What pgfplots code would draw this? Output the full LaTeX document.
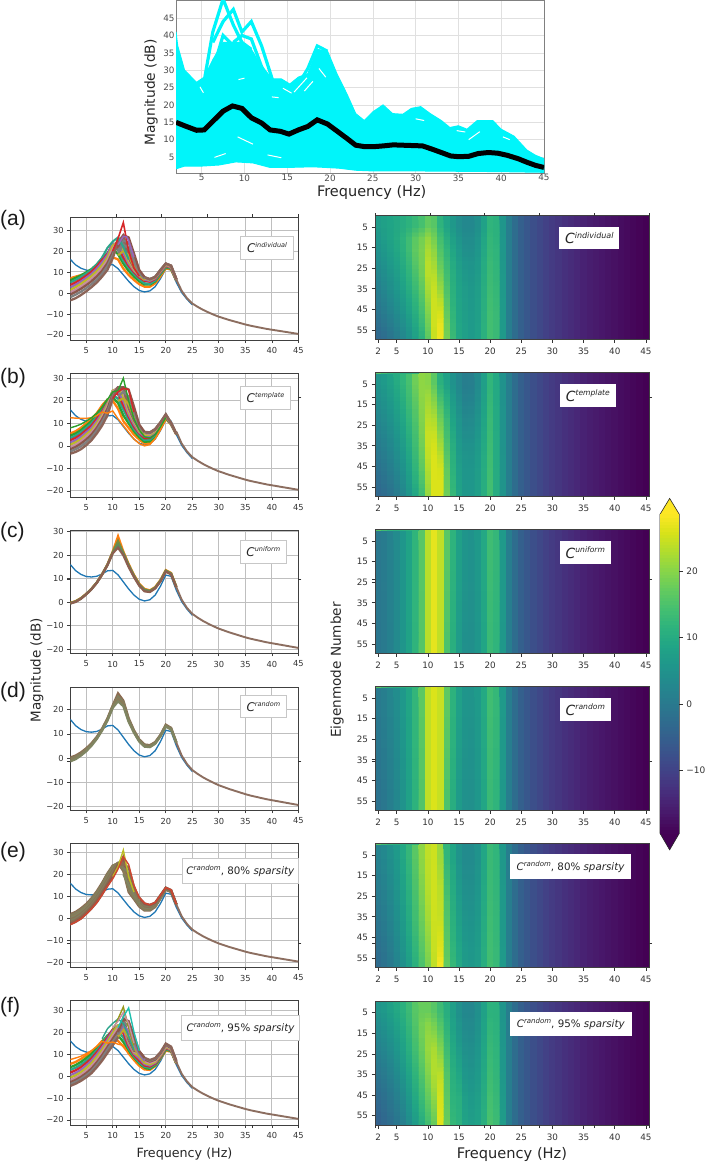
\documentclass[border=0pt]{standalone}
\usepackage{fontspec}
\setmainfont{DejaVu Sans}
\newfontfamily\arial{Liberation Sans}
\usepackage{pgfplots}
\usepackage{pgfplotstable}
\pgfplotsset{compat=1.18}

\definecolor{fan1}{HTML}{FF7F0E}
\definecolor{fan2}{HTML}{2CA02C}
\definecolor{fan3}{HTML}{2CA58C}
\definecolor{fan4}{HTML}{D62728}
\definecolor{fan5}{HTML}{9467BD}
\definecolor{fan6}{HTML}{BCBD22}
\definecolor{fan7}{HTML}{C58FA0}
\definecolor{fan8}{HTML}{8C564B}
\definecolor{fan9}{HTML}{7F7F7F}
\definecolor{fan10}{HTML}{8C6458}
\definecolor{uni1}{HTML}{FF7F0E}
\definecolor{uni2}{HTML}{7C8C3C}
\definecolor{uni3}{HTML}{5F8C5C}
\definecolor{uni4}{HTML}{8C5F50}
\definecolor{spa1}{HTML}{8C6A50}
\definecolor{spa2}{HTML}{808060}
\definecolor{spa3}{HTML}{8C7A58}
\definecolor{spa4}{HTML}{7F8562}
\definecolor{spa5}{HTML}{8C7055}
\definecolor{spa6}{HTML}{7F7F60}
\definecolor{spa7}{HTML}{8C6A50}
\definecolor{spa8}{HTML}{8C5A4C}
\definecolor{tabblue}{HTML}{1F77B4}
\definecolor{tailc}{HTML}{8C6E60}
\definecolor{topcyan}{HTML}{00F5FA}
\definecolor{vmin}{HTML}{440154}
\definecolor{vmax}{HTML}{FDE725}

\pgfdeclareplotmark{cell}{\pgfpathrectangle{\pgfpoint{-3.3pt}{-\pgfplotmarksize}}{\pgfpoint{6.6pt}{2\pgfplotmarksize}}\pgfusepathqfill}
\pgfdeclareplotmark{cellb}{\pgfpathrectangle{\pgfpoint{-3.115pt}{-\pgfplotmarksize}}{\pgfpoint{6.23pt}{2\pgfplotmarksize}}\pgfusepathqfill}
\pgfdeclareplotmark{cbcell}{\pgfpathrectangle{\pgfpoint{-9.65pt}{-\pgfplotmarksize}}{\pgfpoint{19.3pt}{2\pgfplotmarksize}}\pgfusepathqfill}

\pgfplotsset{
  leftp/.style={
    scale only axis, width=228.1pt, anchor=south west,
    xmin=2, xmax=45,
    xtick={5,10,15,20,25,30,35,40,45},
    xticklabels={5,10,15,20,25,30,35,40,45},
    tick pos=left, tick align=outside, major tick length=3pt,
    tick style={black!75,line width=0.7pt},
    grid=major, grid style={draw=black!25,line width=1pt},
    axis line style={draw=black!75,line width=0.9pt},
    tick label style={font=\fontsize{8.3}{10}\selectfont,text=black!80},
    xticklabel style={yshift=-1pt},
  },
  rightp/.style={
    scale only axis, width=274pt, height=123.6pt, anchor=south west,
    xmin=1.5, xmax=45.5, ymin=-0.5, ymax=59.5, y dir=reverse,
    xtick={2,5,10,15,20,25,30,35,40,45},
    xticklabels={2,5,10,15,20,25,30,35,40,45},
    ytick={5,15,25,35,45,55},
    yticklabels={5,15,25,35,45,55},
    tick pos=left, tick align=outside, major tick length=3.5pt,
    tick style={black!80,line width=0.7pt},
    axis on top, clip marker paths=true,
    axis line style={draw=black!75,line width=0.8pt},
    tick label style={font=\fontsize{8.8}{10}\selectfont,text=black!80},
    xticklabel style={yshift=-2pt},
    colormap/viridis, point meta min=-19.5, point meta max=28.6,
  },
  cellplot/.style={scatter, only marks, mark=cell, point meta=explicit},
  hidden ticks/.style={
    scale only axis, anchor=south west,
    axis line style={draw=none},
    xticklabels={}, yticklabels={},
    tick align=outside, major tick length=3pt,
    tick style={black!80,line width=0.7pt},
  },
}

% rows of the fans and heatmaps: columns run from low to high eigenmode
\pgfplotstableread{
f v
2 16.0
3 13.4
4 11.8
5 10.9
6 10.7
7 11.0
8 12.0
9 13.3
10 13.5
11 11.6
12 8.6
13 5.6
14 3.0
15 1.2
16 0.5
17 1.0
18 3.0
19 6.8
20 11.5
21 11.0
22 5.0
23 0.2
24 -3.0
25 -5.6
}\bluetab

\pgfplotstableread{
f v
22 6.3
23 1.0
24 -2.5
25 -5.0
26 -6.6
27 -8.0
28 -9.2
29 -10.3
30 -11.3
31 -12.1
32 -12.9
33 -13.6
34 -14.3
35 -15.0
36 -15.6
37 -16.1
38 -16.6
39 -17.1
40 -17.5
41 -17.9
42 -18.3
43 -18.7
44 -19.1
45 -19.5
}\tailtab

\pgfplotstableread{
f c1 c2 c3 c4 c5 c6 c7 c8 c9 c10
2 7.0 6.0 5.0 3.8 2.6 1.4 0.3 -0.8 -2.0 -3.5
3 7.8 7.2 6.2 5.0 3.9 2.8 1.6 0.5 -0.8 -2.5
4 8.5 8.4 7.6 6.5 5.4 4.3 3.1 2.0 0.6 -1.0
5 9.4 9.8 9.2 8.2 7.2 6.1 4.9 3.7 2.3 0.8
6 10.3 11.4 11.0 10.1 9.1 8.0 6.8 5.6 4.2 2.8
7 11.4 13.6 13.6 12.6 11.6 10.4 9.1 7.9 6.4 5.0
8 12.8 16.4 16.8 15.8 14.6 13.2 11.9 10.6 9.2 7.8
9 14.5 18.5 19.0 18.6 18.0 16.8 15.5 14.2 12.8 11.0
10 17.0 21.0 22.5 23.5 23.5 22.5 21.0 19.5 18.0 16.5
11 16.0 18.5 20.5 22.0 23.5 24.5 25.0 25.0 25.0 24.5
12 11.6 14.0 15.5 17.0 19.0 21.0 23.5 25.5 27.0 27.5
13 8.6 10.5 12.0 13.0 14.0 15.0 16.0 17.0 18.0 18.5
14 6.2 7.8 9.0 10.0 10.6 11.0 11.5 12.0 12.5 13.0
15 4.2 5.6 6.6 7.4 8.0 8.4 8.6 8.8 9.0 9.2
16 3.0 4.0 4.6 5.8 6.4 7.0 7.2 7.4 7.5 7.5
17 3.0 4.0 4.4 5.4 5.8 6.2 6.4 6.5 6.6 6.6
18 4.6 5.5 6.0 6.6 7.0 7.3 7.5 7.6 7.7 7.7
19 8.0 9.0 9.4 10.0 10.2 10.5 10.7 10.9 11.0 11.0
20 11.8 12.3 12.6 13.0 13.3 13.5 13.8 14.0 14.0 14.0
21 11.2 11.5 11.8 12.0 12.2 12.5 12.7 13.0 13.0 13.0
22 5.8 6.0 6.0 6.2 6.3 6.4 6.5 6.6 6.6 6.6
}\tabA

\pgfplotstableread{
f c1 c2 c3 c4 c5 c6 c7 c8 c9 c10
2 5.5 4.5 3.5 2.5 1.5 0.5 -0.5 -1.5 -2.5 -3.5
3 6.5 5.5 4.5 3.5 2.5 1.5 0.5 -0.5 -1.5 -2.7
4 8.0 7.0 6.0 5.0 4.0 3.0 2.0 1.0 -0.2 -1.5
5 10.0 9.0 8.0 7.0 6.0 5.0 4.0 2.8 1.6 0.3
6 12.0 11.0 10.0 9.0 8.0 7.0 6.0 5.0 3.8 2.5
7 14.5 13.8 13.0 12.0 11.0 10.0 9.0 8.0 6.8 5.5
8 18.0 17.0 16.0 15.2 14.4 13.6 12.8 11.8 10.6 9.0
9 20.5 20.5 20.0 19.5 19.0 18.2 17.4 16.4 15.0 13.5
10 20.0 21.5 22.5 23.5 24.5 24.5 24.0 23.0 22.0 21.0
11 16.5 19.0 21.0 23.0 24.5 25.5 26.0 26.0 26.0 26.0
12 11.0 13.5 16.0 18.0 20.0 22.0 24.0 25.5 26.0 26.0
13 8.0 10.0 11.5 13.0 14.0 15.0 16.0 17.0 17.5 18.0
14 5.0 6.5 7.5 8.5 9.5 10.5 11.0 11.5 12.0 12.5
15 2.8 3.8 4.8 5.5 6.0 6.5 7.0 7.5 8.0 8.3
16 1.0 1.8 2.6 3.4 4.2 5.0 5.5 5.8 6.0 6.2
17 1.2 2.0 2.8 3.5 4.2 4.9 5.4 5.7 5.9 6.0
18 3.6 4.2 4.8 5.4 6.0 6.5 6.9 7.2 7.4 7.5
19 7.5 8.0 8.4 8.8 9.2 9.6 10.0 10.2 10.4 10.5
20 12.0 12.4 12.7 13.0 13.2 13.4 13.6 13.8 14.0 14.0
21 9.5 9.6 9.7 9.8 9.9 10.0 10.0 10.1 10.1 10.2
22 5.0 5.0 5.1 5.1 5.2 5.2 5.3 5.3 5.3 5.4
}\tabB

\pgfplotstableread{
f c1 c2 c3 c4
2 -0.3 -0.4 -0.5 -0.6
3 0.4 0.3 0.2 0.1
4 1.7 1.6 1.5 1.4
5 3.5 3.4 3.4 3.3
6 5.7 5.6 5.6 5.5
7 8.4 8.3 8.3 8.2
8 11.9 11.8 11.8 11.7
9 16.0 15.9 15.8 15.7
10 21.5 21.2 21.0 20.8
11 28.0 26.0 24.5 23.2
12 21.5 21.0 20.5 20.0
13 16.2 15.8 15.5 15.0
14 11.6 11.3 11.0 10.7
15 7.8 7.5 7.2 7.0
16 5.6 5.3 5.0 4.6
17 5.0 4.8 4.6 4.3
18 6.4 6.2 6.0 5.8
19 9.4 9.2 9.0 8.8
20 13.6 13.4 13.2 13.0
21 12.4 12.2 12.0 11.8
22 6.5 6.4 6.3 6.2
}\tabC

\pgfplotstableread{
f c1 c2 c3 c4
2 0.2 -0.4 -0.9 -1.4
3 1.0 0.5 0.0 -0.5
4 2.3 1.8 1.4 1.0
5 4.0 3.6 3.2 2.8
6 6.1 5.8 5.4 5.1
7 8.8 8.5 8.2 7.9
8 12.2 12.0 11.7 11.4
9 16.4 16.1 15.8 15.5
10 21.8 21.5 21.2 20.8
11 26.8 25.5 24.5 23.5
12 23.8 23.2 22.5 21.5
13 16.5 16.0 15.5 15.0
14 11.5 11.2 10.8 10.5
15 7.7 7.4 7.0 6.8
16 5.6 5.3 5.0 4.7
17 5.3 5.0 4.7 4.5
18 6.6 6.4 6.1 5.9
19 9.6 9.4 9.2 9.0
20 13.8 13.5 13.3 13.0
21 12.5 12.3 12.0 11.8
22 6.5 6.4 6.3 6.2
}\tabD

\pgfplotstableread{
f c1 c2 c3 c4 c5 c6 c7 c8
2 2.0 1.4 0.8 0.2 -0.4 -1.0 -1.8 -2.6
3 3.0 2.4 1.8 1.2 0.6 0.0 -0.8 -1.5
4 4.6 4.0 3.4 2.8 2.2 1.6 0.8 0.0
5 6.6 6.0 5.5 4.9 4.3 3.7 3.0 2.2
6 9.2 8.6 8.0 7.4 6.8 6.2 5.4 4.6
7 12.4 11.8 11.2 10.6 10.0 9.3 8.4 7.4
8 16.2 15.6 15.0 14.4 13.8 13.0 12.0 11.0
9 20.5 20.0 19.3 18.6 17.8 17.0 16.0 15.0
10 24.0 23.8 23.4 22.8 22.0 21.0 20.0 19.0
11 25.0 25.2 25.2 25.2 25.0 24.8 24.5 24.0
12 21.5 22.5 23.5 24.0 24.5 25.5 26.5 28.0
13 12.0 13.0 14.0 15.0 15.5 16.0 16.5 17.0
14 8.8 9.5 10.0 10.5 11.0 11.5 12.0 12.5
15 5.4 6.0 6.6 7.2 7.8 8.4 9.0 9.4
16 3.6 4.0 4.5 5.0 5.5 6.0 6.5 6.8
17 3.6 4.0 4.4 4.8 5.2 5.6 6.0 6.2
18 5.2 5.5 5.8 6.1 6.4 6.7 7.0 7.2
19 9.0 9.2 9.5 9.7 10.0 10.2 10.4 10.6
20 13.0 13.2 13.3 13.5 13.6 13.8 13.9 14.0
21 12.0 12.1 12.2 12.4 12.5 12.6 12.8 12.9
22 6.2 6.2 6.3 6.3 6.4 6.4 6.5 6.5
}\tabE

\pgfplotstableread{
f c1 c2 c3 c4 c5 c6 c7 c8 c9 c10
2 5.5 4.0 2.8 1.6 0.4 -0.7 -1.8 -2.8 -3.7 -4.5
3 6.4 5.0 3.8 2.6 1.4 0.3 -0.8 -1.8 -2.7 -3.5
4 7.8 6.4 5.2 4.0 2.8 1.7 0.6 -0.4 -1.3 -2.2
5 9.4 8.2 7.0 5.9 4.8 3.6 2.4 1.3 0.3 -0.6
6 11.0 10.0 9.0 8.0 7.0 5.8 4.6 3.4 2.3 1.3
7 13.3 12.6 11.7 10.8 9.8 8.6 7.4 6.2 5.1 4.0
8 16.0 15.5 14.8 14.0 13.0 11.9 10.7 9.5 8.3 7.0
9 17.5 18.5 18.2 17.5 16.6 15.6 14.4 13.2 12.0 10.5
10 17.5 20.0 21.0 21.2 20.6 19.6 18.3 17.0 15.6 14.0
11 16.0 18.5 20.5 22.5 23.0 23.0 22.0 20.6 19.0 17.5
12 13.5 15.5 17.5 19.5 21.5 23.5 24.8 25.5 26.0 26.5
13 10.5 11.5 12.5 13.5 14.5 15.5 16.0 16.5 17.0 17.5
14 7.5 8.2 9.0 9.6 10.2 10.8 11.2 11.6 12.0 12.5
15 4.8 5.5 6.2 7.0 8.0 9.0 10.0 10.8 11.0 11.3
16 3.0 3.6 4.2 4.8 5.4 6.0 6.8 7.5 8.0 8.3
17 2.8 3.3 3.8 4.3 4.8 5.3 6.0 6.6 7.0 7.3
18 4.5 4.9 5.3 5.7 6.1 6.5 7.0 7.5 7.9 8.2
19 8.0 8.3 8.6 8.9 9.2 9.5 9.9 10.3 10.6 10.9
20 11.5 12.0 12.4 12.8 13.1 13.4 13.8 14.2 14.5 14.8
21 11.2 11.4 11.6 11.8 12.0 12.2 12.5 12.8 13.1 13.4
22 5.6 5.7 5.8 5.9 6.0 6.1 6.3 6.5 6.7 7.0
}\tabF

\newcommand\bluecurve{\addplot[tabblue,line width=1.3pt,mark=none] table[x=f,y=v] {\bluetab};}
\newcommand\tailcurve{\addplot[tailc,line width=1.9pt,mark=none] table[x=f,y=v] {\tailtab};}
\newcommand\fan[3]{\pgfplotsinvokeforeach{1,...,#2}{\addplot[#3##1,line width=2.3pt,mark=none] table[x=f,y=c##1] {#1};}}
% three offset layers so the eigenmode bands blend into each other
\newcommand\heat[3]{%
  \pgfplotsinvokeforeach{1,...,#2}{\addplot[cellplot,mark size=#3pt] table[x=f,y expr={(##1-0.5)*60/#2-0.5},meta=c##1] {#1};}
  \pgfplotsinvokeforeach{1,...,#2}{\addplot[cellplot,mark=cellb,mark size=#3pt,mark options={fill opacity=0.5}] table[x=f,y expr={(##1-0.5)*60/#2-0.5+20/#2},meta=c##1] {#1};}
  \pgfplotsinvokeforeach{1,...,#2}{\addplot[cellplot,mark=cellb,mark size=#3pt,mark options={fill opacity=0.333}] table[x=f,y expr={(##1-0.5)*60/#2-0.5+40/#2},meta=c##1] {#1};}
  \addplot[cellplot,mark size=61.8pt,restrict x to domain=22.5:46] table[x=f,y expr=29.5,meta=v] {\tailtab};
}
\newcommand\topstrip{\addplot[cellplot,mark size=0.7pt,restrict x to domain=1:8.5] table[x=f,y expr=-0.15,meta=v] {\bluetab};}
\newcommand\Clab[3]{\fontsize{#1}{#1}\selectfont\itshape C\raisebox{0.42em}{\fontsize{#2}{#2}\selectfont #3}}
\newcommand\Cspar[1]{\fontsize{10.3}{12}\selectfont\itshape C\raisebox{0.42em}{\fontsize{7}{7}\selectfont random}\upshape, #1\% \itshape sparsity}

\begin{document}
\begin{tikzpicture}
\useasboundingbox (0pt,0pt) rectangle (709pt,-1163pt);

% top panel
\begin{axis}[
  at={(176pt,-173pt)}, anchor=south west, scale only axis,
  width=368pt, height=173pt,
  xmin=2, xmax=45, ymin=0.4, ymax=50.2,
  xtick={5,10,15,20,25,30,35,40,45},
  xticklabels={5,10,15,20,25,30,35,40,45},
  ytick={5,10,15,20,25,30,35,40,45},
  yticklabels={5,10,15,20,25,30,35,40,45},
  tick style={draw=none},
  grid=major, grid style={draw=black!12,line width=0.6pt},
  axis line style={draw=black!50,line width=0.9pt},
  tick label style={font=\fontsize{8.8}{10}\selectfont,text=black!70},
  xticklabel style={yshift=2pt}, yticklabel style={xshift=2pt},
]
\addplot[fill=topcyan,draw=topcyan,line width=1pt] coordinates {
 (2,41)(2.2,37)(3,30)(4.4,26.5)(5.3,28)(6.3,33)(7.5,38)(8.7,38)(9.7,38)(10.8,36)(12,31)
 (13.3,27.5)(14.3,27.5)(15.3,26)(16.3,28)(17.4,29)(18.5,36)(19.7,35.5)(20.8,29)(22,23)
 (23,17.5)(24,15.5)(25,18)(26.2,20)(27.3,17.5)(28.5,17.3)(29.5,19)(30.6,19.5)(31.7,17.5)
 (33,15.5)(34,13.5)(35,14)(36,13)(37.2,15.5)(39,15.5)(40,13)(41.5,11)(43,7)(44,5.5)(45,4.5)
 (45,0.6)(40,0.8)(35,0.9)(30,1)(25,1)(23,1.2)(21,1.8)(18,2.2)(15,2)(13,2)(11,3.3)(9,3.6)
 (7,2.7)(5,2.4)(3,2.4)(2,1.6)
};
\addplot[topcyan,line width=3.2pt] coordinates {(5.3,27)(6.3,41)(7.5,50.5)(8.7,43)(9.7,38)(10.8,36)};
\addplot[topcyan,line width=3.2pt] coordinates {(6.3,38)(7.5,44)(8.7,47.5)(9.7,41)(10.8,44)(12,37)(13.3,27)};
\addplot[topcyan,line width=3.2pt] coordinates {(6.3,30)(7.5,40)(8.7,37)(9.7,38)(10.8,33)(12,30)};
\addplot[topcyan,line width=3.2pt] coordinates {(8.7,38)(9.7,40)(10.8,39)(12,31)(13.3,26)};
\addplot[topcyan,line width=3pt] coordinates {(16.3,26)(17.4,30.5)(18.5,37)(19.7,35.5)};
\addplot[white,line width=1pt,unbounded coords=jump] coordinates {
 (4.8,25.2)(5.2,23.5)(5,nan)(9.3,27.3)(10,27.7)(10,nan)(13.2,22.3)(14,22.1)(14,nan)
 (14.5,24.8)(15.5,23.4)(15.5,nan)(15.8,23.7)(17.3,27.8)(17.3,nan)(17,24)(18,26.8)(18,nan)
 (18.7,30.5)(19.5,28)(19.5,nan)(9.2,10.8)(11,8.7)(11,nan)(6.5,4.9)(7.8,6)(7.8,nan)
 (12.7,5.6)(14.3,4.8)(14.3,nan)(30,16)(31,15.5)(31,nan)(34.8,12.6)(35.8,12.2)(35.8,nan)
 (36.2,10)(37.5,12.3)(37.5,nan)(39.8,14.7)(40.4,14.2)(40.4,nan)(40.2,10.8)(41,10)
};
\addplot[black,line width=5pt] coordinates {
 (2,15)(3,14)(4.4,12.7)(5.3,12.8)(6.4,15.5)(7.5,18.2)(8.6,19.7)(9.7,19)(10.8,16.3)(12,14.8)
 (13,12.8)(14.2,12.4)(15.2,11.6)(16.3,12.8)(17.4,13.8)(18.5,15.7)(19.7,14.5)(20.8,12.5)
 (22,10.3)(23,8.4)(24,8)(25.2,8)(26.2,8.2)(27.4,8.5)(28.5,8.4)(29.7,8.3)(30.8,8.2)(32,7.2)
 (33,6.3)(34.1,5.3)(35,5.1)(36.2,5.2)(37.3,6)(38.5,6.3)(39.6,6.1)(40.7,5.5)(42,4.5)(43,3.5)
 (44,2.6)(45,2)
};
\end{axis}
\node[font=\fontsize{14.5}{16}\selectfont,text=black!85] at (371.7pt,-192.7pt) {Frequency (Hz)};
\node[font=\fontsize{13.8}{16}\selectfont,text=black!85,rotate=90] at (151pt,-92.5pt) {Magnitude (dB)};

% left column
\begin{axis}[leftp,at={(70.3pt,-340pt)},height=123pt,ymin=-22.4,ymax=36.2,
  ytick={-20,-10,0,10,20,30},yticklabels={−20,−10,0,10,20,30}]
\bluecurve
\fan{\tabA}{10}{fan}
\addplot[fan6!70!brown,line width=2.2pt] coordinates {(11,18)(12,20)(13,18)(14,12.5)(15,8.5)(16,6.2)};
\addplot[fan9,line width=2.2pt] coordinates {(11,19)(12,23)(13,21.5)(14,15)(15,9.5)(16,6.8)};
\addplot[fan9,line width=2.2pt] coordinates {(11,20)(12,25)(13,24)(14,17)(15,10.4)(16,7.2)};
\addplot[fan8,line width=2.2pt] coordinates {(11,22)(12,27.5)(13,26.5)(14,19)(15,11)(16,7.6)};
\addplot[fan3,line width=2pt] coordinates {(8,17)(9,21.5)(10,24.5)(11,26.5)(12,22)(13,16)};
\addplot[fan4,line width=1.6pt] coordinates {(10,20)(11,26)(12,33.5)(13,20)(14,12)(15,8)};
\addplot[fan5,line width=1.6pt] coordinates {(11,23)(12,27)(12.6,26.8)(13,25)(14,17)};
\tailcurve
\end{axis}
\begin{axis}[leftp,at={(70.3pt,-497pt)},height=123.7pt,ymin=-22.7,ymax=32.2,
  ytick={-20,-10,0,10,20,30},yticklabels={−20,−10,0,10,20,30}]
\bluecurve
\fan{\tabB}{10}{fan}
\addplot[fan6!70!brown,line width=2.2pt] coordinates {(11,20)(12,21)(13,18.5)(14,13)(15,7.8)(16,5.2)};
\addplot[fan9,line width=2.2pt] coordinates {(11,22)(12,24)(13,22)(14,15)(15,8.5)(16,5.8)};
\addplot[fan8,line width=2.2pt] coordinates {(11,24)(12,26)(13,25)(14,17.5)(15,9.5)(16,6.2)};
\addplot[fan1,line width=1.4pt] coordinates {(2,12.5)(3,12.3)(4,12.2)(5,12.2)(6,12.5)(7,13.5)(8,15)(9,14.5)(10,15.5)(11,12)(12,9)(13,6)(14,3)(15,1)(16,0)(17,0.6)(18,3.2)(19,7.2)(20,11.8)};
\addplot[fan2,line width=1.4pt] coordinates {(2,8)(3,8.7)(4,9.6)(5,11)(6,12.5)(7,14.5)(8,17)(9,20.5)(10,24)(11,24.5)(12,30)(13,20)(14,12)(15,7)(16,4)(17,3.5)(18,5)(19,8.5)(20,12.5)};
\addplot[fan4,line width=1.4pt] coordinates {(10,21)(11,24)(12,25.5)(13,25)(14,15)};
\tailcurve
\end{axis}
\begin{axis}[leftp,at={(70.3pt,-653.3pt)},height=123.3pt,ymin=-21.8,ymax=30.7,
  ytick={-20,-10,0,10,20,30},yticklabels={−20,−10,0,10,20,30}]
\bluecurve
\fan{\tabC}{4}{uni}
\tailcurve
\end{axis}
\begin{axis}[leftp,at={(70.3pt,-810.3pt)},height=123pt,ymin=-21.7,ymax=29.3,
  ytick={-20,-10,0,10,20},yticklabels={−20,−10,0,10,20}]
\bluecurve
\fan{\tabD}{4}{spa}
\tailcurve
\end{axis}
\begin{axis}[leftp,at={(70.3pt,-967.3pt)},height=123.6pt,ymin=-22.1,ymax=33.9,
  ytick={-20,-10,0,10,20,30},yticklabels={−20,−10,0,10,20,30}]
\bluecurve
\fan{\tabE}{8}{spa}
\addplot[spa4,line width=2.2pt] coordinates {(12,20)(13,15.5)(14,11)(15,7)};
\addplot[spa3,line width=2.2pt] coordinates {(12,21.5)(13,18)(14,12.5)(15,7.8)};
\addplot[spa2,line width=2.2pt] coordinates {(12,23)(13,20.5)(14,13.5)(15,8.4)};
\addplot[spa1,line width=2.2pt] coordinates {(11.5,24)(12,25)(13,23)(14,14.5)(15,9)};
\addplot[fan6,line width=1.4pt] coordinates {(10,19)(11,23.5)(12,31)(13,19)(14,12)};
\addplot[fan4!65!brown,line width=1.4pt] coordinates {(2,-2.8)(3,-1.6)(4,-0.2)(5,2)(6,4.4)(7,7.2)(8,10.8)(9,14.5)(10,18)(11,22.4)(12,28)(13,24.5)(14,15)(15,9.6)(16,7)(17,6.2)(18,7.3)(19,10.6)(20,14)(21,13)(22,6.5)};
\tailcurve
\end{axis}
\begin{axis}[leftp,at={(70.3pt,-1125pt)},height=124.3pt,ymin=-22.3,ymax=34.3,
  ytick={-20,-10,0,10,20,30},yticklabels={−20,−10,0,10,20,30}]
\bluecurve
\fan{\tabF}{10}{fan}
\addplot[fan6!70!brown,line width=2.2pt] coordinates {(11,18)(12,21)(13,18)(14,13.5)(15,9)(16,6.4)};
\addplot[fan5,line width=2.2pt] coordinates {(11,19)(12,23)(13,20.5)(14,15)(15,10)(16,7)};
\addplot[fan9,line width=2.2pt] coordinates {(11,19)(12,24.5)(13,23)(14,16.5)(15,10.8)(16,7.8)};
\addplot[fan8,line width=2.2pt] coordinates {(11,20)(12,26)(13,25)(14,18.5)(15,11.3)(16,8.3)};
\addplot[fan1,line width=1.4pt] coordinates {(2,7.5)(3,8.2)(4,9)(5,10.2)(6,11.6)(7,13.5)(8,15.8)(9,15)(10,15.5)(11,14.5)(12,14)(13,10)(14,7)(15,4.5)(16,2.8)};
\addplot[fan3,line width=1.4pt] coordinates {(8,17)(9,21.5)(10,24)(11,26)(12,24)(13,18)(14,12)};
\addplot[fan6!80!black,line width=1.4pt] coordinates {(10,21)(11,26)(12,31.5)(13,22)(14,14)};
\addplot[fan7,line width=1.4pt] coordinates {(10,22)(11,25)(12,29)(13,24)(14,15)};
\addplot[fan3!70!cyan,line width=1.4pt] coordinates {(11,22)(12,27)(13,31)(14,20)(15,11.5)};
\tailcurve
\end{axis}

% right column
\begin{axis}[rightp,at={(375pt,-339.3pt)}]
\heat{\tabA}{10}{6.5}
\end{axis}
\begin{axis}[rightp,at={(375pt,-496.3pt)}]
\heat{\tabB}{10}{6.5}
\topstrip
\end{axis}
\begin{axis}[rightp,at={(375pt,-653.3pt)}]
\heat{\tabC}{4}{15.8}
\addplot[cellplot,mark size=61.8pt] coordinates {(10,29.5)[23.5](11,29.5)[26.8](12,29.5)[24]};
\topstrip
\end{axis}
\begin{axis}[rightp,at={(375pt,-810.3pt)}]
\heat{\tabD}{4}{15.8}
\addplot[cellplot,mark size=61.8pt] coordinates {(10,29.5)[24](11,29.5)[26](12,29.5)[24.5]};
\topstrip
\end{axis}
\begin{axis}[rightp,at={(375pt,-967.3pt)}]
\heat{\tabE}{8}{8}
\topstrip
\end{axis}
\begin{axis}[rightp,at={(375pt,-1125pt)}]
\heat{\tabF}{10}{6.5}
\end{axis}

% stray ticks of the two big axes behind the panels
\begin{axis}[hidden ticks,at={(70.3pt,-1125pt)},width=228.1pt,height=908pt,
  xmin=70.3,xmax=298.4,ymin=-1125,ymax=-217,
  xtick={116.3,161.7,207,252.3,298},ytick={-397,-579,-761,-943}]
\addplot[draw=none] coordinates {(100,-500)};
\end{axis}
\begin{axis}[hidden ticks,at={(375pt,-1125pt)},width=274pt,height=909pt,
  xmin=375,xmax=649,ymin=-1125,ymax=-216,
  xtick={375.7,430,484.7,539.7,594.3,649},ytick={-397,-579,-761,-943}]
\addplot[draw=none] coordinates {(400,-500)};
\end{axis}

% colour bar
\begin{axis}[
  at={(660pt,-833.3pt)}, anchor=south west, scale only axis,
  width=19.3pt, height=319pt, clip=false,
  xmin=-0.5, xmax=0.5, ymin=-19.5, ymax=28.6,
  xtick=\empty, ytick={-10,0,10,20}, yticklabels={−10,0,10,20},
  ytick pos=right, tick align=outside,
  major tick length=3.5pt, tick style={black!80,line width=0.7pt},
  axis line style={draw=none},
  tick label style={font=\fontsize{9}{10}\selectfont,text=black!80},
  colormap/viridis, point meta min=-19.5, point meta max=28.6,
]
\addplot[fill=vmin,draw=none] coordinates {(-0.5,-19.5)(0,-22)(0.5,-19.5)};
\addplot[fill=vmax,draw=none] coordinates {(-0.5,28.6)(0,31)(0.5,28.6)};
\addplot[scatter,only marks,mark=cbcell,mark size=1.9pt,point meta=y] coordinates {
(0,-19.25)(0,-18.75)(0,-18.25)(0,-17.75)(0,-17.25)(0,-16.75)(0,-16.25)(0,-15.75)(0,-15.25)(0,-14.75)
(0,-14.25)(0,-13.75)(0,-13.25)(0,-12.75)(0,-12.25)(0,-11.75)(0,-11.25)(0,-10.75)(0,-10.25)(0,-9.75)
(0,-9.25)(0,-8.75)(0,-8.25)(0,-7.75)(0,-7.25)(0,-6.75)(0,-6.25)(0,-5.75)(0,-5.25)(0,-4.75)
(0,-4.25)(0,-3.75)(0,-3.25)(0,-2.75)(0,-2.25)(0,-1.75)(0,-1.25)(0,-0.75)(0,-0.25)(0,0.25)
(0,0.75)(0,1.25)(0,1.75)(0,2.25)(0,2.75)(0,3.25)(0,3.75)(0,4.25)(0,4.75)(0,5.25)
(0,5.75)(0,6.25)(0,6.75)(0,7.25)(0,7.75)(0,8.25)(0,8.75)(0,9.25)(0,9.75)(0,10.25)
(0,10.75)(0,11.25)(0,11.75)(0,12.25)(0,12.75)(0,13.25)(0,13.75)(0,14.25)(0,14.75)(0,15.25)
(0,15.75)(0,16.25)(0,16.75)(0,17.25)(0,17.75)(0,18.25)(0,18.75)(0,19.25)(0,19.75)(0,20.25)
(0,20.75)(0,21.25)(0,21.75)(0,22.25)(0,22.75)(0,23.25)(0,23.75)(0,24.25)(0,24.75)(0,25.25)
(0,25.75)(0,26.25)(0,26.75)(0,27.25)(0,27.75)(0,28.3)
};
\addplot[draw=black!85,line width=0.6pt] coordinates {(-0.5,-19.5)(0,-22)(0.5,-19.5)(0.5,28.6)(0,31)(-0.5,28.6)(-0.5,-19.5)};
\end{axis}

% legend boxes, left column
\tikzset{lbox/.style={draw=black!22,line width=0.8pt,fill=white,anchor=center,inner sep=0pt,text=black!85},
         rbox/.style={fill=white,anchor=center,inner sep=0pt,text=black!85}}
\node[lbox,minimum width=52.6pt,minimum height=22.3pt] at (267pt,-247.8pt) {\Clab{12}{6.5}{individual}};
\node[lbox,minimum width=49.7pt,minimum height=23.3pt] at (265.5pt,-397.6pt) {\Clab{12}{6.5}{template}};
\node[lbox,minimum width=45.3pt,minimum height=23pt] at (263.3pt,-551.5pt) {\Clab{12}{6.5}{uniform}};
\node[lbox,minimum width=45.3pt,minimum height=22.7pt] at (263.3pt,-706.3pt) {\Clab{12}{6.5}{random}};
\node[lbox,minimum width=116.8pt,minimum height=25pt] at (240.4pt,-870.8pt) {\Cspar{80}};
\node[lbox,minimum width=117.6pt,minimum height=24.3pt] at (240.5pt,-1027.8pt) {\Cspar{95}};
% legend boxes, right column
\node[rbox,minimum width=60pt,minimum height=22.6pt] at (589.3pt,-238pt) {\Clab{14}{8}{individual}};
\node[rbox,minimum width=56pt,minimum height=22.7pt] at (587.8pt,-395.4pt) {\Clab{14}{7.6}{template}};
\node[rbox,minimum width=51.5pt,minimum height=23pt] at (585.3pt,-552.5pt) {\Clab{14}{7.6}{uniform}};
\node[rbox,minimum width=51.5pt,minimum height=22.4pt] at (585.3pt,-709.5pt) {\Clab{14}{7.6}{random}};
\node[rbox,minimum width=121pt,minimum height=24.7pt] at (570.5pt,-866.7pt) {\Cspar{80}};
\node[rbox,minimum width=121.7pt,minimum height=24pt] at (570.8pt,-1023.7pt) {\Cspar{95}};

% panel letters and shared labels
\tikzset{letter/.style={anchor=west,inner sep=0pt,font=\arial\fontsize{21}{24}\selectfont,text=black!90}}
\node[letter] at (0pt,-220pt) {(a)};
\node[letter] at (0pt,-378pt) {(b)};
\node[letter] at (0pt,-532pt) {(c)};
\node[letter] at (0pt,-692pt) {(d)};
\node[letter] at (0pt,-852pt) {(e)};
\node[letter] at (0pt,-1007pt) {(f)};
\node[font=\fontsize{13.5}{16}\selectfont,text=black!85,rotate=90] at (37pt,-670pt) {Magnitude (dB)};
\node[font=\fontsize{13.6}{16}\selectfont,text=black!85,rotate=90] at (337pt,-670pt) {Eigenmode Number};
\node[font=\fontsize{12.7}{16}\selectfont,text=black!85] at (184.5pt,-1154pt) {Frequency (Hz)};
\node[font=\fontsize{14.6}{16}\selectfont,text=black!85] at (512pt,-1154pt) {Frequency (Hz)};
\end{tikzpicture}
\end{document}
